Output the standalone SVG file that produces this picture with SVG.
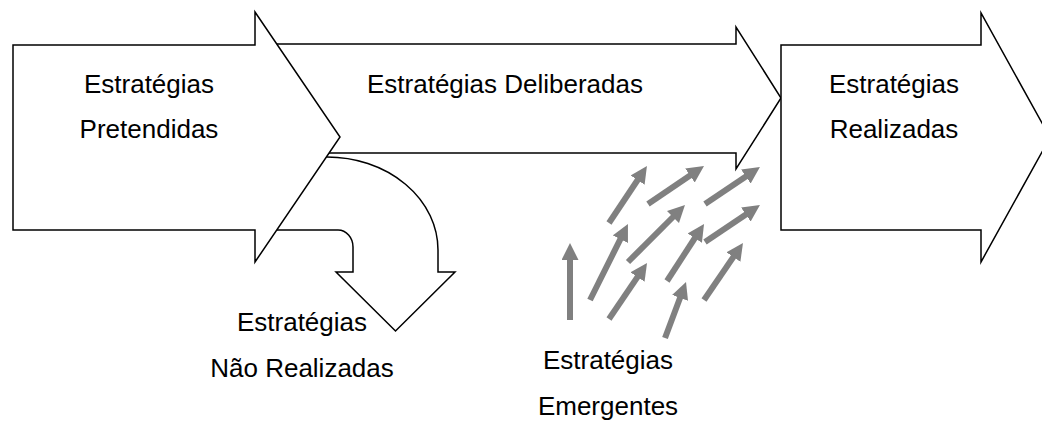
<svg xmlns="http://www.w3.org/2000/svg" width="1042" height="421" viewBox="0 0 1042 421">
<style>
.shape{fill:#fff;stroke:#000;stroke-width:1.5;stroke-linejoin:miter}
.lbl{font-family:"Liberation Sans",Arial,sans-serif;font-size:26px;fill:#000;text-anchor:middle}
.em{stroke:#808080;stroke-width:6;fill:none;marker-end:url(#gh)}
</style>
<defs>
<marker id="gh" markerUnits="userSpaceOnUse" viewBox="0 0 17 17" markerWidth="17" markerHeight="17" refX="5" refY="8.5" orient="auto">
<path d="M0,0 L17,8.5 L0,17 Z" fill="#808080"/>
</marker>
</defs>
<rect width="1042" height="421" fill="#fff"/>
<g id="deliberadas">
<path class="shape" d="M270,44 L736,44 L736,27 L781,98 L736,169 L736,153 L270,153 Z"/>
<text class="lbl" x="505" y="93">Estratégias Deliberadas</text>
</g>
<g id="nao-realizadas">
<path class="shape" d="M270,230 L338,230 A15,17 0 0 1 353,247 L353,272 L336,272 L395.5,331 L455,272 L438,272 L438,250 A111,93 0 0 0 327,157 L300,157 Z"/>
<text class="lbl" x="302" y="331">Estratégias</text>
<text class="lbl" x="302" y="377">Não Realizadas</text>
</g>
<g id="realizadas">
<path class="shape" d="M781,45 L981,45 L981,13 L1050,137.5 L981,262 L981,230 L781,230 Z"/>
<text class="lbl" x="894" y="93">Estratégias</text>
<text class="lbl" x="894" y="138">Realizadas</text>
</g>
<g id="pretendidas">
<path class="shape" d="M13,45 L255,45 L255,12 L340,137 L255,262 L255,230 L13,230 Z"/>
<text class="lbl" x="149" y="93">Estratégias</text>
<text class="lbl" x="149" y="138">Pretendidas</text>
</g>
<g id="emergentes">
<text class="lbl" x="608" y="369">Estratégias</text>
<text class="lbl" x="608" y="415">Emergentes</text>
</g>
<g id="connectors">
<line class="em" x1="570" y1="320" x2="570" y2="255"/>
<line class="em" x1="590" y1="300" x2="622.6" y2="234.7"/>
<line class="em" x1="609" y1="223" x2="640.3" y2="176"/>
<line class="em" x1="648" y1="204" x2="694.1" y2="172.7"/>
<line class="em" x1="705" y1="204" x2="750" y2="173.7"/>
<line class="em" x1="628" y1="262" x2="676.5" y2="213.5"/>
<line class="em" x1="609" y1="319" x2="640.3" y2="272.9"/>
<line class="em" x1="667" y1="281" x2="697.5" y2="234"/>
<line class="em" x1="705" y1="242" x2="750" y2="211.7"/>
<line class="em" x1="665" y1="338" x2="681.8" y2="293.2"/>
<line class="em" x1="704" y1="300" x2="736.2" y2="252.9"/>
</g>
</svg>
